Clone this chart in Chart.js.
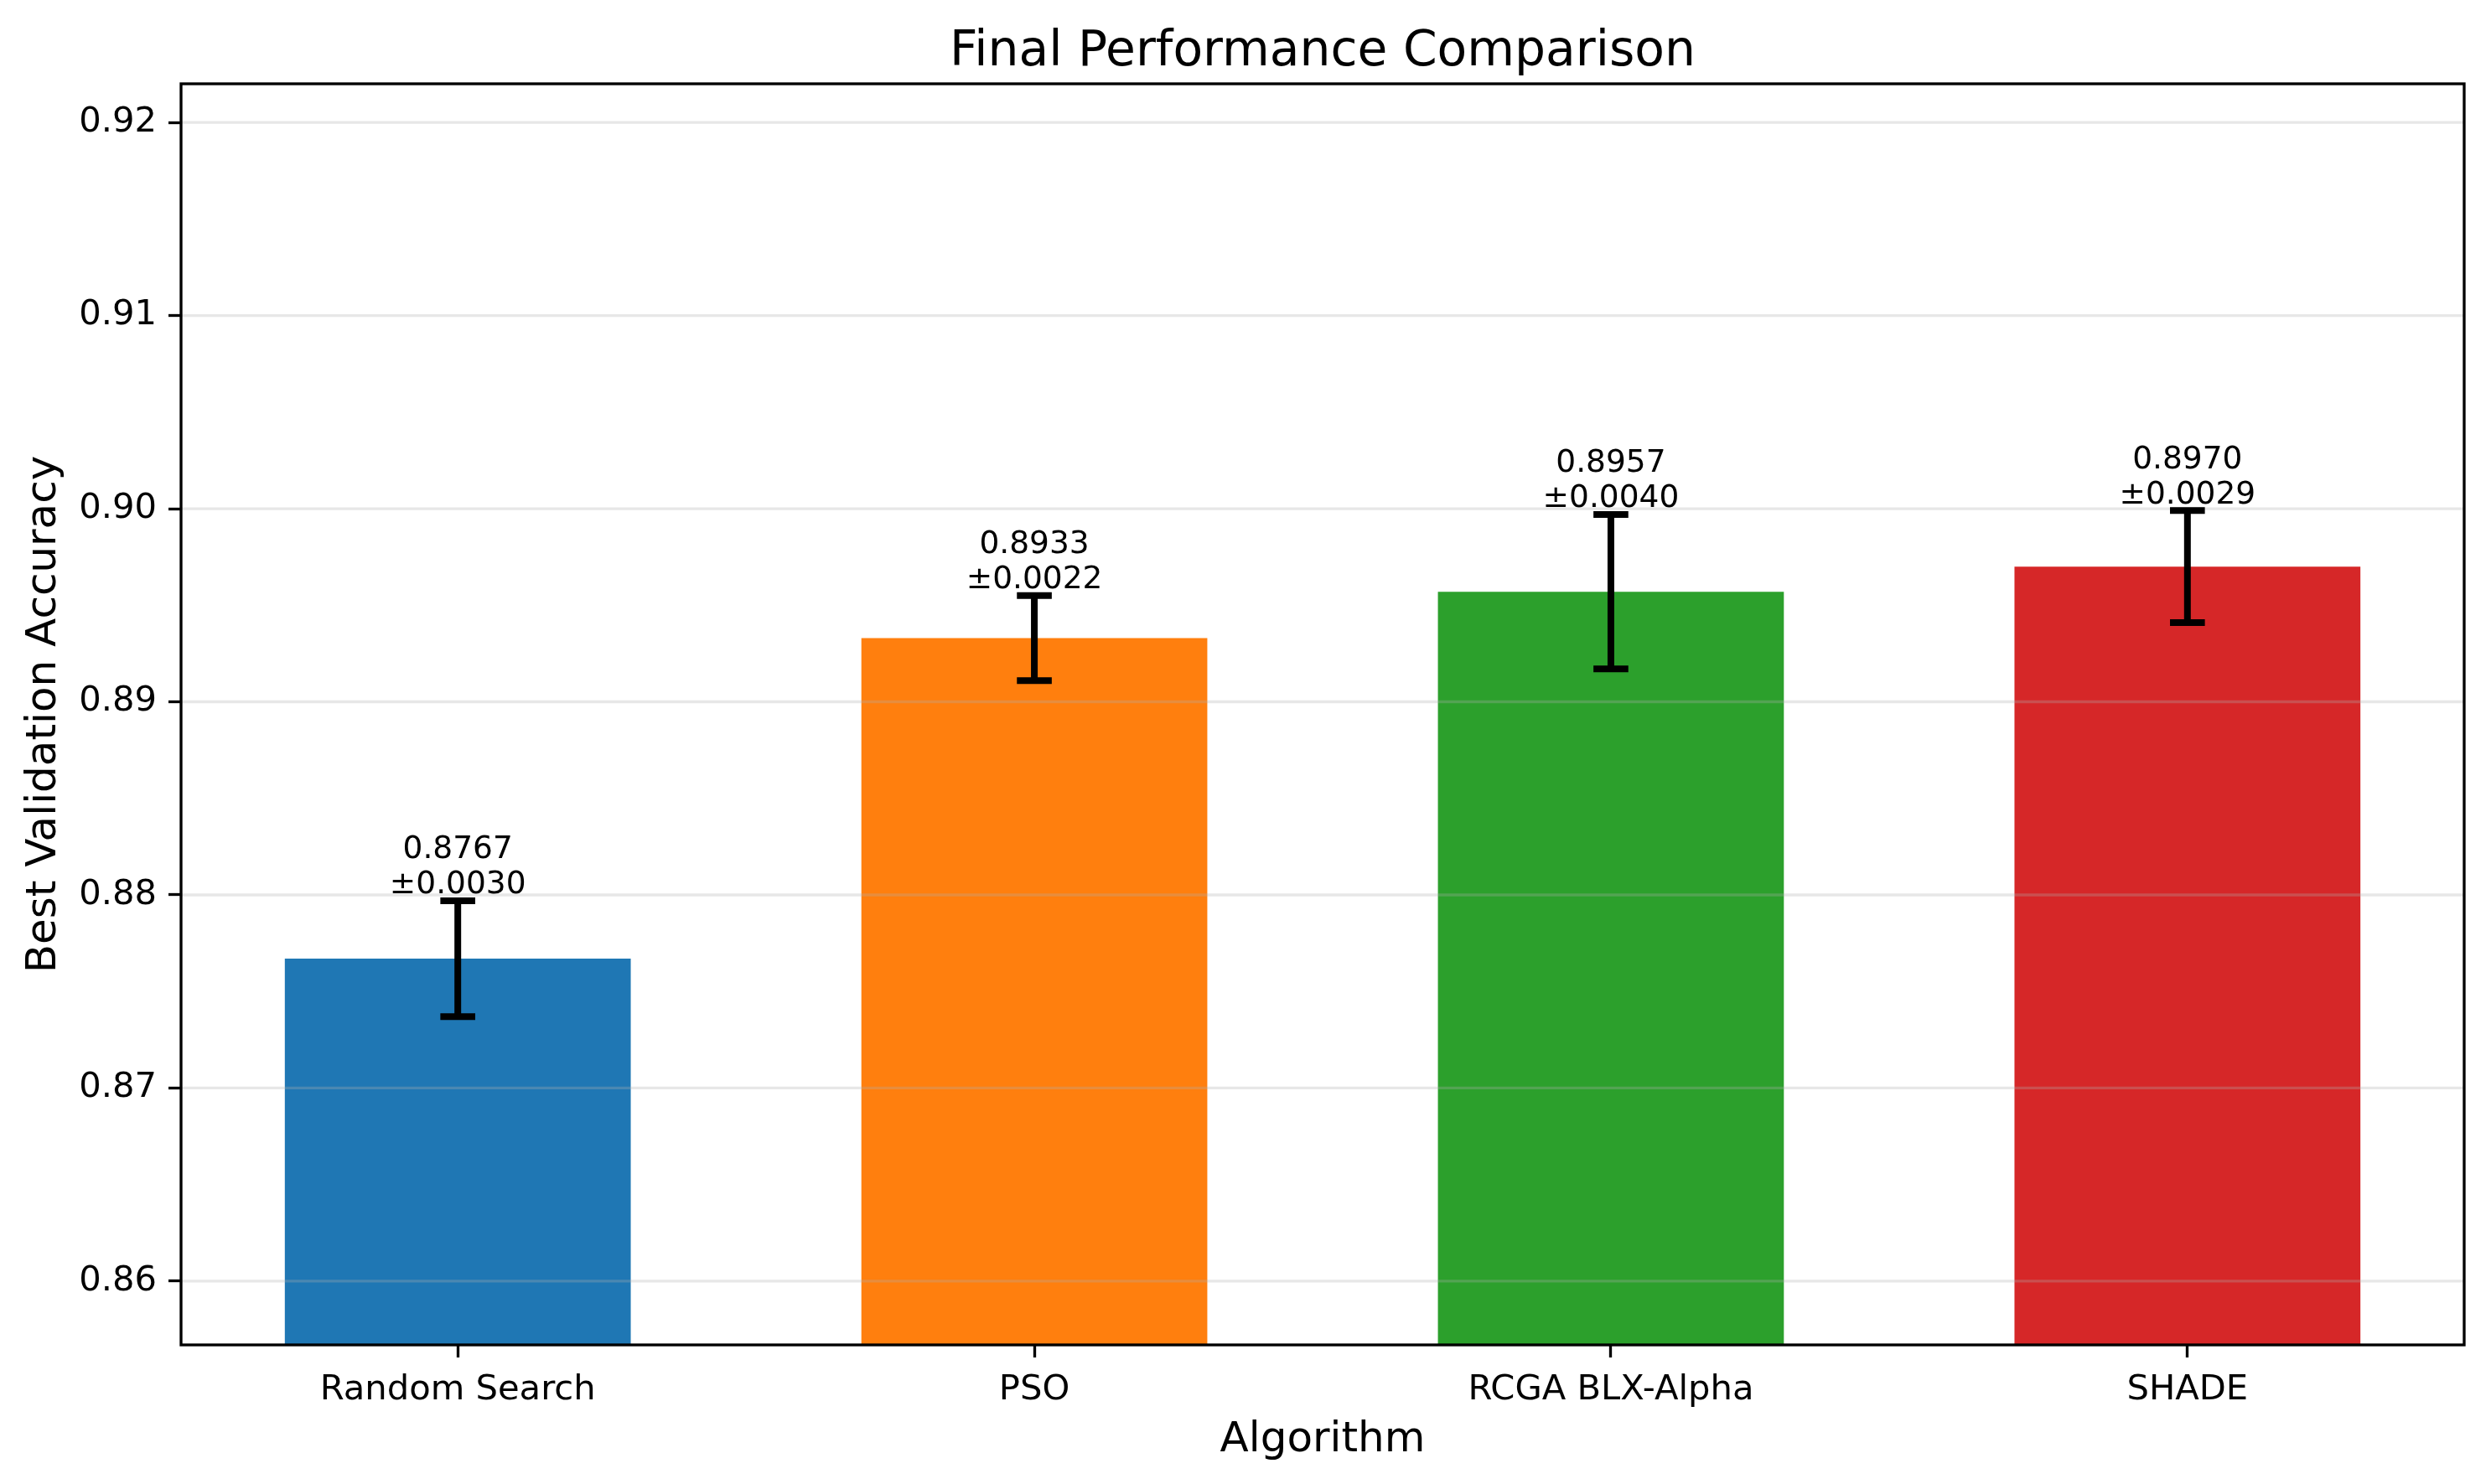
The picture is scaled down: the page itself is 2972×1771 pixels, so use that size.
<!DOCTYPE html>
<html>
<head>
<meta charset="utf-8">
<script src="https://cdn.jsdelivr.net/npm/chart.js@4.4.1/dist/chart.umd.min.js"></script>
<style>
  html, body { margin: 0; padding: 0; background: #ffffff; }
  #wrap { width: 2972px; height: 1771px; }
  canvas { display: block; }
</style>
</head>
<body>
<div id="wrap"><canvas id="c" width="2972" height="1771"></canvas></div>
<script>
// ---- data ----
const categories = ['Random Search', 'PSO', 'RCGA BLX-Alpha', 'SHADE'];
const meanAccuracy = [0.8767, 0.8933, 0.8957, 0.8970];
const stdAccuracy = [0.0030, 0.0022, 0.0040, 0.0029];
const barColors = ['#1f77b4', '#ff7f0e', '#2ca02c', '#d62728'];
const yTickValues = [0.86, 0.87, 0.88, 0.89, 0.90, 0.91, 0.92];
const yMin = 0.8567;
const yMax = 0.922;
const chartTitle = 'Final Performance Comparison';

const FONT = 'DejaVu Sans';
const points = categories.map((c, i) => ({ x: i, y: meanAccuracy[i] }));

const overlayPlugin = {
  id: 'overlay',
  afterDatasetsDraw(chart) {
    const ctx = chart.ctx;
    const xs = chart.scales.x, ys = chart.scales.y;
    const area = chart.chartArea;
    ctx.save();
    // grid lines (drawn over bars, like matplotlib)
    ctx.strokeStyle = 'rgba(176,176,176,0.3)';
    ctx.lineWidth = 3.3;
    ys.ticks.forEach(t => {
      const py = ys.getPixelForValue(t.value);
      ctx.beginPath();
      ctx.moveTo(area.left, py);
      ctx.lineTo(area.right, py);
      ctx.stroke();
    });
    // error bars
    ctx.strokeStyle = '#000000';
    ctx.lineWidth = 8;
    ctx.lineCap = 'butt';
    const capHalf = 20.8;
    categories.forEach((c, i) => {
      const px = xs.getPixelForValue(i);
      const top = ys.getPixelForValue(meanAccuracy[i] + stdAccuracy[i]);
      const bot = ys.getPixelForValue(meanAccuracy[i] - stdAccuracy[i]);
      ctx.beginPath();
      ctx.moveTo(px, top); ctx.lineTo(px, bot);
      ctx.moveTo(px - capHalf, top); ctx.lineTo(px + capHalf, top);
      ctx.moveTo(px - capHalf, bot); ctx.lineTo(px + capHalf, bot);
      ctx.stroke();
    });
    // value labels
    ctx.fillStyle = '#000000';
    ctx.font = '37.5px "' + FONT + '"';
    ctx.textAlign = 'center';
    ctx.textBaseline = 'alphabetic';
    categories.forEach((c, i) => {
      const px = xs.getPixelForValue(i);
      const top = ys.getPixelForValue(meanAccuracy[i] + stdAccuracy[i]);
      ctx.fillText('\u00b1' + stdAccuracy[i].toFixed(4), px, top - 8.8);
      ctx.fillText(meanAccuracy[i].toFixed(4), px, top - 8.8 - 42);
    });
    ctx.restore();
  },
  afterDraw(chart) {
    const ctx = chart.ctx;
    const a = chart.chartArea;
    ctx.save();
    ctx.strokeStyle = '#000000';
    ctx.lineWidth = 3.33;
    ctx.strokeRect(a.left, a.top, a.right - a.left, a.bottom - a.top);
    // title centred over the axes
    ctx.fillStyle = '#000000';
    ctx.font = '58.3px "' + FONT + '"';
    ctx.textAlign = 'center';
    ctx.textBaseline = 'alphabetic';
    ctx.fillText(chartTitle, (a.left + a.right) / 2, a.top - 22);
    ctx.restore();
  }
};

new Chart(document.getElementById('c'), {
  type: 'bar',
  data: {
    datasets: [{
      data: points,
      backgroundColor: barColors,
      borderWidth: 0,
      categoryPercentage: 1.0,
      barPercentage: 0.6
    }]
  },
  options: {
    responsive: false,
    devicePixelRatio: 1,
    animation: false,
    events: [],
    layout: { padding: { left: 0, right: 32, top: 100, bottom: 0 } },
    plugins: {
      legend: { display: false },
      tooltip: { enabled: false },
      title: { display: false }
    },
    scales: {
      x: {
        type: 'linear',
        offset: false,
        min: -0.48,
        max: 3.48,
        afterBuildTicks(scale) { scale.ticks = categories.map((c, i) => ({ value: i })); },
        afterFit(scale) { scale.height = 166; },
        ticks: {
          callback: (v) => categories[v],
          color: '#000000',
          font: { family: FONT, size: 41.7 },
          padding: 14,
          maxRotation: 0,
          autoSkip: false
        },
        grid: { offset: false, drawOnChartArea: false, drawTicks: true, tickLength: 15, tickColor: '#000000', tickWidth: 3.33 },
        border: { display: false },
        title: {
          display: true,
          text: 'Algorithm',
          color: '#000000',
          font: { family: FONT, size: 50, lineHeight: 1.2 },
          padding: { top: 0, bottom: 22 }
        }
      },
      y: {
        type: 'linear',
        min: yMin,
        max: yMax,
        afterBuildTicks(scale) { scale.ticks = yTickValues.map(v => ({ value: v })); },
        afterFit(scale) { scale.width = 216; },
        ticks: {
          callback: (v) => Number(v).toFixed(2),
          color: '#000000',
          font: { family: FONT, size: 41.7 },
          padding: 14,
          autoSkip: false
        },
        grid: { drawOnChartArea: false, drawTicks: true, tickLength: 15, tickColor: '#000000', tickWidth: 3.33 },
        border: { display: false },
        title: {
          display: true,
          text: 'Best Validation Accuracy',
          color: '#000000',
          font: { family: FONT, size: 50, lineHeight: 1.2 },
          padding: { top: 23, bottom: 0 }
        }
      }
    }
  },
  plugins: [overlayPlugin]
});
</script>
</body>
</html>
